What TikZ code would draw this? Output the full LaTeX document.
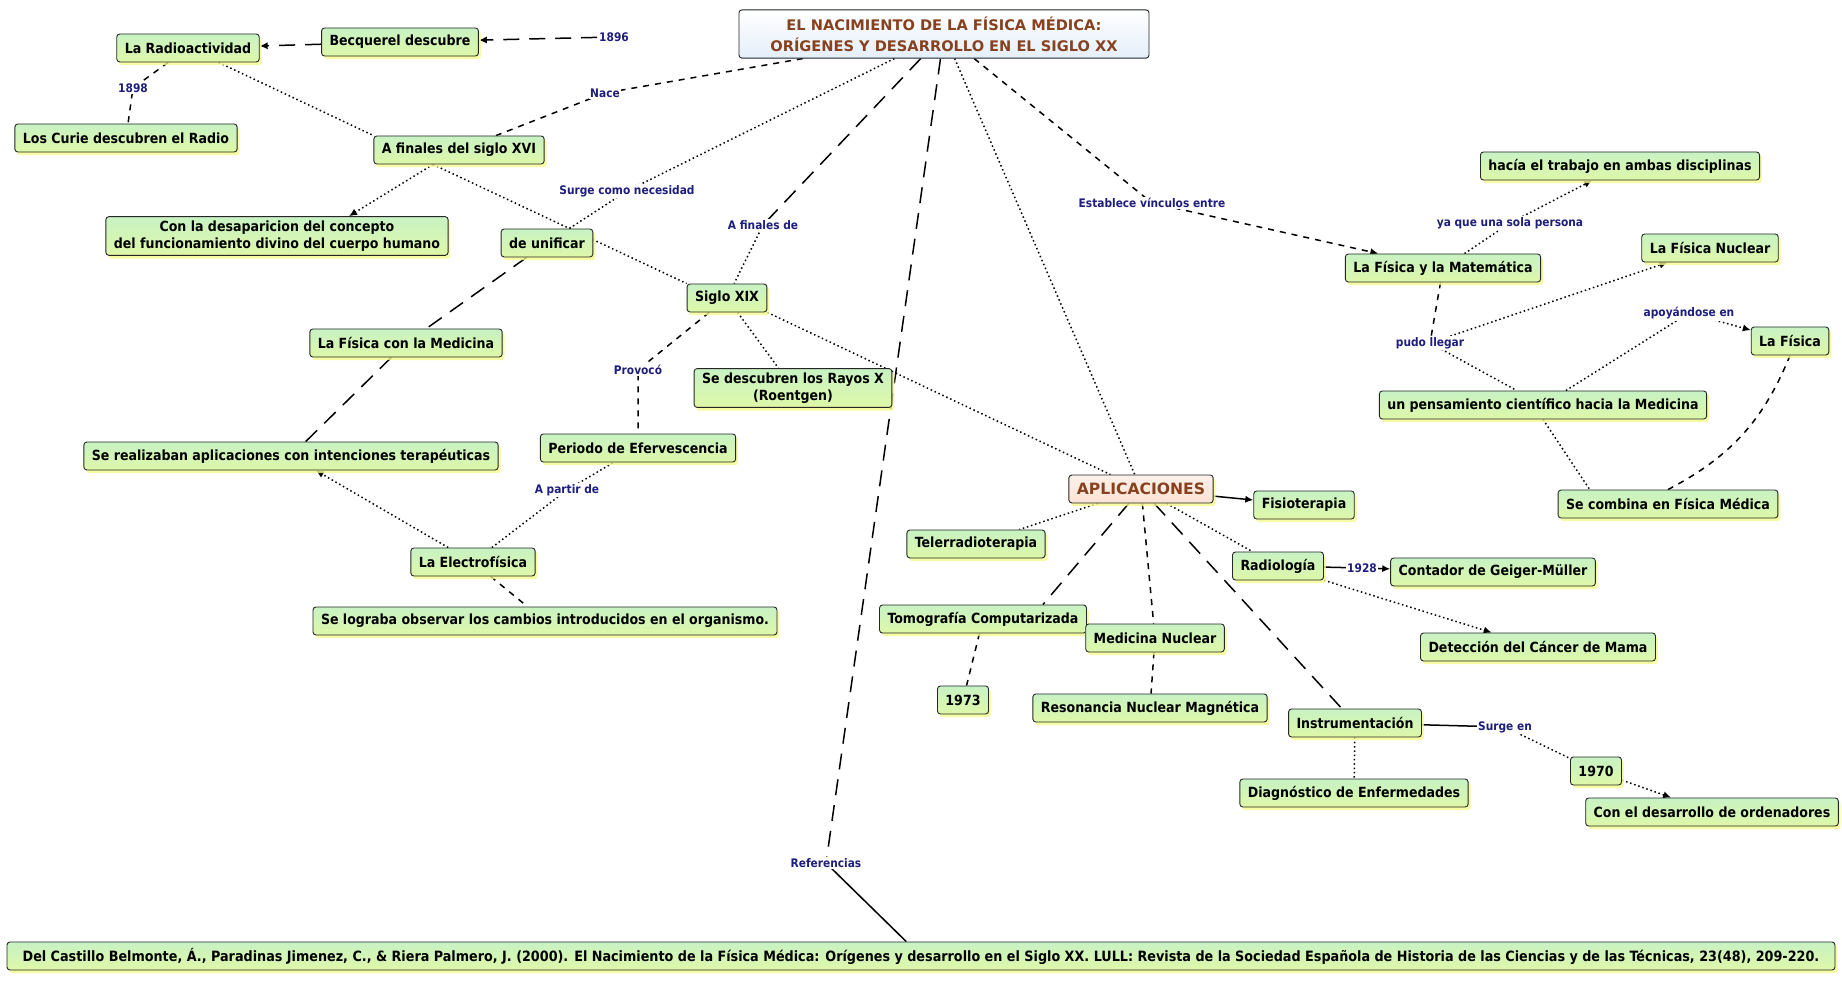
\documentclass[tikz,border=0pt]{standalone}
\usepackage{fontspec}
\setmainfont{DejaVu Sans}
\newfontfamily\estrecha{DejaVu Sans Condensed}
\usepackage{tikz}
\usetikzlibrary{backgrounds}
\usetikzlibrary{arrows.meta,shadows}

\definecolor{verdecmap}{RGB}{200,242,196}
\definecolor{amarillocmap}{RGB}{222,248,168}
\definecolor{brillo}{RGB}{246,250,140}
\definecolor{marron}{RGB}{135,65,30}
\definecolor{azulenlace}{RGB}{30,30,125}
\definecolor{celeste}{RGB}{228,238,250}
\definecolor{salmon}{RGB}{250,226,212}

\tikzset{
  concepto/.style={draw=black!85, line width=0.45pt, rounded corners=1.5pt,
    top color=verdecmap, bottom color=amarillocmap, align=center,
    font=\estrecha\bfseries\fontsize{7}{8.6}\selectfont,
    inner xsep=4pt, inner ysep=2pt, minimum height=14pt,
    drop shadow={fill=brillo, opacity=0.8, shadow xshift=1.2pt, shadow yshift=-1.6pt}},
  raiz/.style={draw=black!85, line width=0.45pt, rounded corners=1.5pt,
    top color=white, bottom color=celeste, text=marron, align=center,
    font=\bfseries\fontsize{7.3}{10.6}\selectfont, minimum width=205pt, minimum height=24pt},
  seccion/.style={concepto, top color=salmon!50, bottom color=salmon, text=marron,
    font=\bfseries\fontsize{7.8}{9}\selectfont},
  enlace/.style={text=azulenlace, fill=white, inner sep=0.8pt,
    font=\estrecha\bfseries\fontsize{5.9}{6.5}\selectfont},
  punteado/.style={line width=0.75pt, dash pattern=on 0.75pt off 1.4pt},
  rayado/.style={line width=0.75pt, dash pattern=on 3pt off 3pt},
  largo/.style={line width=0.75pt, dash pattern=on 8pt off 5pt},
  flecha/.style={-{Latex[length=4pt,width=3.6pt]}}
}

\begin{document}
\begin{tikzpicture}[x=0.5pt, y=-0.5pt]
  \useasboundingbox (0,0) rectangle (1842,984);

  % conceptos
  \node[raiz] (titulo) at (944,34) {EL NACIMIENTO DE LA FÍSICA MÉDICA:\\ORÍGENES Y DESARROLLO EN EL SIGLO XX};
  \node[concepto] (becq) at (400,42) {Becquerel descubre};
  \node[concepto] (radio) at (188,48) {La Radioactividad};
  \node[concepto] (curie) at (126,138) {Los Curie descubren el Radio};
  \node[concepto] (afin) at (459,150) {A finales del siglo XVI};
  \node[concepto] (desap) at (277,236) {Con la desaparicion del concepto\\del funcionamiento divino del cuerpo humano};
  \node[concepto] (unif) at (547,243) {de unificar};
  \node[concepto] (fismed) at (406,343) {La Física con la Medicina};
  \node[concepto] (realiz) at (291,456) {Se realizaban aplicaciones con intenciones terapéuticas};
  \node[concepto] (siglo) at (727,298) {Siglo XIX};
  \node[concepto] (rayos) at (793,388) {Se descubren los Rayos X\\(Roentgen)};
  \node[concepto] (eferv) at (638,448) {Periodo de Efervescencia};
  \node[concepto] (electro) at (473,562) {La Electrofísica};
  \node[concepto] (lograba) at (545,621) {Se lograba observar los cambios introducidos en el organismo.};

  \node[concepto] (fismat) at (1443,268) {La Física y la Matemática};
  \node[concepto] (ambas) at (1620,166) {hacía el trabajo en ambas disciplinas};
  \node[concepto] (nuclear) at (1710,248) {La Física Nuclear};
  \node[concepto] (lafis) at (1790,341) {La Física};
  \node[concepto] (pens) at (1543,405) {un pensamiento científico hacia la Medicina};
  \node[concepto] (combina) at (1668,504) {Se combina en Física Médica};

  \node[seccion] (aplic) at (1141,489) {APLICACIONES};
  \node[concepto] (fisio) at (1304,505) {Fisioterapia};
  \node[concepto] (tele) at (976,544) {Telerradioterapia};
  \node[concepto] (tomo) at (983,619) {Tomografía Computarizada};
  \node[concepto] (y1973) at (963,700) {1973};
  \node[concepto] (mednuc) at (1155,638) {Medicina Nuclear};
  \node[concepto] (reson) at (1150,708) {Resonancia Nuclear Magnética};
  \node[concepto] (radiol) at (1278,566) {Radiología};
  \node[concepto] (geiger) at (1493,572) {Contador de Geiger-Müller};
  \node[concepto] (cancer) at (1538,647) {Detección del Cáncer de Mama};
  \node[concepto] (instr) at (1355,723) {Instrumentación};
  \node[concepto] (diag) at (1354,793) {Diagnóstico de Enfermedades};
  \node[concepto] (y1970) at (1596,771) {1970};
  \node[concepto] (ordenad) at (1712,812) {Con el desarrollo de ordenadores};

  \node[concepto, minimum width=914pt, font=\estrecha\bfseries\fontsize{7.1}{8.6}\selectfont] (refs) at (921,956) {Del Castillo Belmonte, Á., Paradinas Jimenez, C., \& Riera Palmero, J. (2000). El Nacimiento de la Física Médica: Orígenes y desarrollo en el Siglo XX. LULL: Revista de la Sociedad Española de Historia de las Ciencias y de las Técnicas, 23(48), 209-220.};

  % frases de enlace
  \node[enlace] (l1896) at (614,37) {1896};
  \node[enlace] (l1898) at (133,88) {1898};
  \node[enlace] (nace) at (605,93) {Nace};
  \node[enlace] (surge) at (627,191) {Surge como necesidad};
  \node[enlace] (afinde) at (763,225) {A finales de};
  \node[enlace] (provoco) at (638,370) {Provocó};
  \node[enlace] (apartir) at (567,490) {A partir de};
  \node[enlace] (refl) at (826,863) {Referencias};
  \node[enlace] (estab) at (1152,203) {Establece vínculos entre};
  \node[enlace] (yaque) at (1510,223) {ya que una sola persona};
  \node[enlace] (pudo) at (1430,343) {pudo llegar};
  \node[enlace] (apoy) at (1689,313) {apoyándose en};
  \node[enlace] (l1928) at (1362,568) {1928};
  \node[enlace] (surgeen) at (1505,727) {Surge en};

  % conexiones
  \begin{scope}[on background layer]
    \fill[white] (0,0) rectangle (1842,984);
    \draw[largo, flecha] (l1896) -- (becq);
    \draw[largo, flecha] (becq) -- (radio);
    \draw[rayado] (radio) -- (l1898.center) -- (curie);
    \draw[punteado] (radio) -- (afin.north west);
    \draw[rayado] (titulo) -- (nace.center) -- (afin);
    \draw[punteado, flecha] ([xshift=-13pt]afin.south) -- ([xshift=36pt]desap.north);
    \draw[punteado] ([xshift=-13pt]afin.south) -- (siglo.north west);
    \draw[punteado] (titulo) -- (surge.center) -- (unif);
    \draw[largo] (unif) -- (fismed);
    \draw[largo] (fismed) -- (realiz);
    \draw[largo] (titulo) -- (afinde.center);
    \draw[punteado] (afinde.center) -- (siglo);
    \draw[rayado] (siglo) -- (provoco.center) -- (eferv);
    \draw[punteado] (siglo) -- (rayos);
    \draw[punteado] (siglo.south east) -- (aplic);
    \draw[punteado] (electro) -- (apartir.center) -- (eferv);
    \draw[punteado, flecha] (electro) -- (realiz);
    \draw[rayado] (electro) -- (lograba);
    \draw[largo] (titulo) -- (refl.center);
    \draw[line width=0.75pt] (refl.center) -- (refs);

    \draw[rayado, flecha] (titulo) -- (estab.center) -- (fismat);
    \draw[punteado, flecha] (fismat) -- (yaque.center) -- (ambas);
    \draw[rayado] (fismat) -- (pudo.center);
    \draw[punteado] (pudo.center) -- (pens);
    \draw[punteado, flecha] (pudo.center) -- (nuclear);
    \draw[punteado, flecha] (pens) -- (apoy.center) -- (lafis);
    \draw[punteado] (pens.south) -- ([xshift=16pt]combina.north west);
    \draw[rayado] (lafis.south) to[bend left=20] (combina.north);

    \draw[punteado] (titulo) -- (aplic);
    \draw[line width=0.75pt, flecha] (aplic) -- (fisio);
    \draw[punteado] (aplic) -- (tele);
    \draw[largo] (aplic) -- ([xshift=-22pt]tomo.north east);
    \draw[rayado] (tomo) -- (y1973);
    \draw[rayado] (aplic) -- (mednuc);
    \draw[rayado] (mednuc) -- (reson);
    \draw[punteado] (aplic) -- (radiol);
    \draw[line width=0.75pt, flecha] (radiol) -- (l1928.center) -- (geiger);
    \draw[punteado, flecha] (radiol) -- (cancer);
    \draw[largo] (aplic) -- (instr);
    \draw[punteado] (instr) -- (diag);
    \draw[line width=0.75pt] (instr) -- (surgeen.center);
    \draw[punteado] (surgeen.center) -- (y1970);
    \draw[punteado, flecha] (y1970) -- (ordenad);
  \end{scope}
\end{tikzpicture}
\end{document}
